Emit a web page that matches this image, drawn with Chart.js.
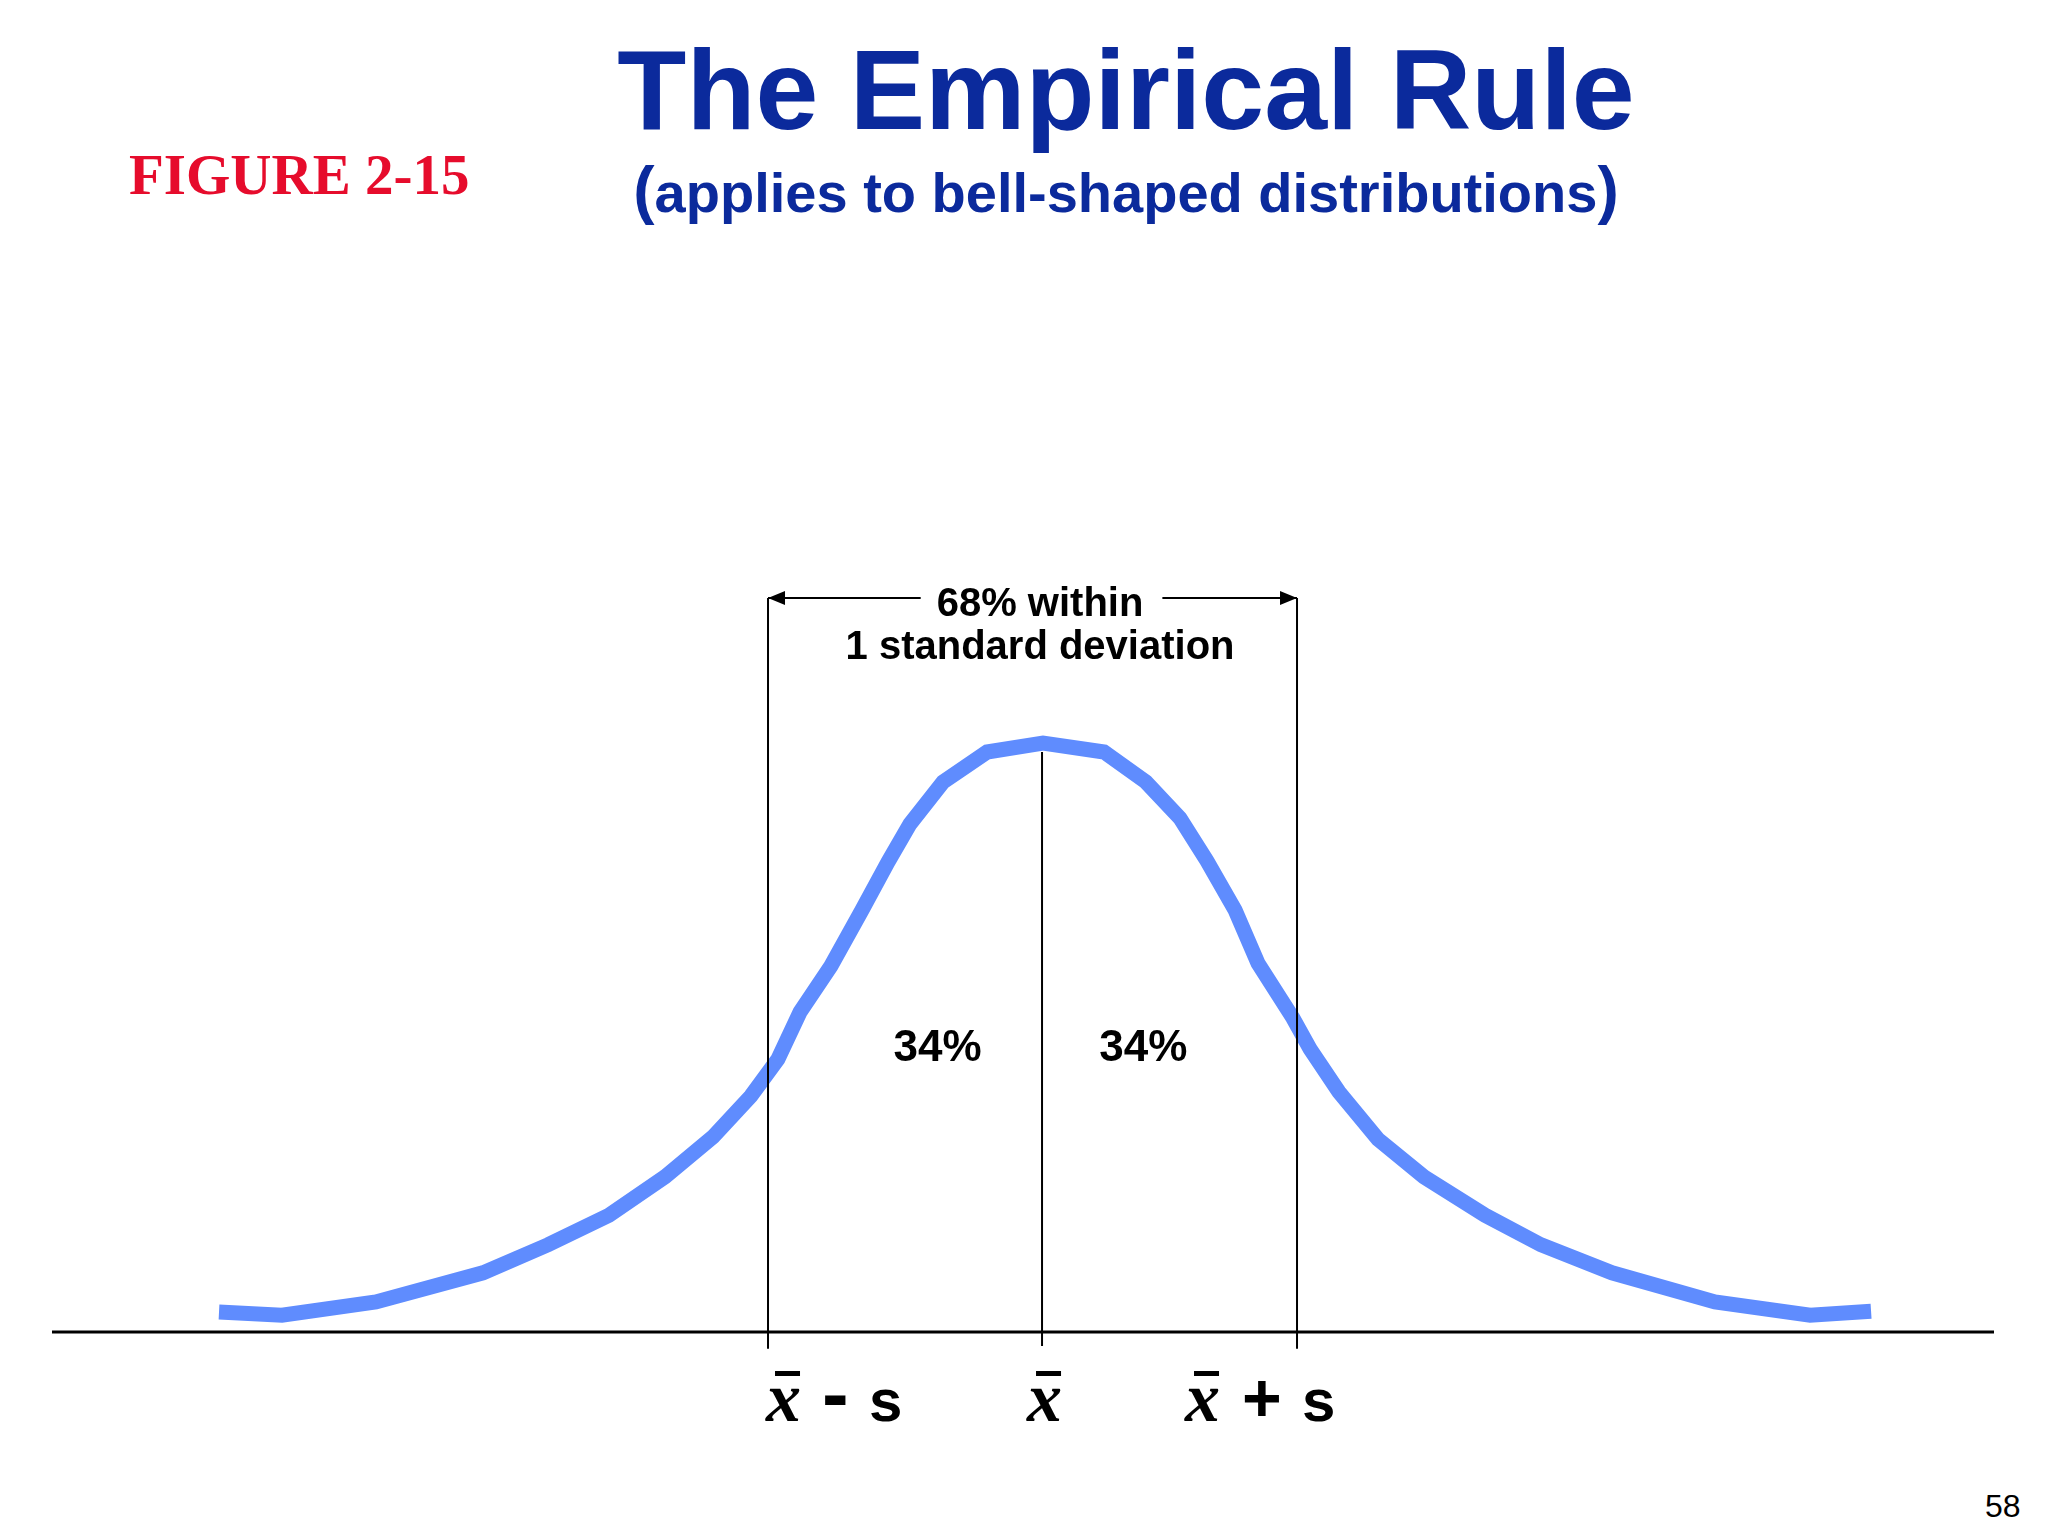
<!DOCTYPE html>
<html>
<head>
<meta charset="utf-8">
<title>The Empirical Rule</title>
<script src="https://cdn.jsdelivr.net/npm/chart.js@4.4.1/dist/chart.umd.min.js"></script>
<style>
  html, body { margin: 0; padding: 0; background: #fff; }
  body { width: 2048px; height: 1536px; position: relative; overflow: hidden; }
  #chart { position: absolute; left: 0; top: 0; }
  .txt { position: absolute; white-space: nowrap; }
  #title { left: 1126px; top: 34px; transform: translateX(-50%); font: bold 113px/1 "Liberation Sans", Arial, sans-serif; color: #0b2a9c; }
  #subtitle { left: 1126px; top: 158px; transform: translateX(-50%); font: bold 56px/1 "Liberation Sans", Arial, sans-serif; color: #0b2a9c; }
  #subtitle .par { font-size: 64px; }
  #figure { left: 129px; top: 146px; font: bold 57px/1 "Liberation Serif", "Times New Roman", serif; color: #e60c2c; }
  #page { left: 1985px; top: 1490px; font: 32px/1 "Liberation Sans", Arial, sans-serif; color: #000; }
</style>
</head>
<body>
<div class="txt" id="title">The Empirical Rule</div>
<div class="txt" id="subtitle"><span class="par">(</span>applies to bell-shaped distributions<span class="par">)</span></div>
<div class="txt" id="figure">FIGURE 2-15</div>
<div class="txt" id="page">58</div>
<canvas id="chart" width="2048" height="1536"></canvas>
<script>
// curve (x across the axis 0-100, y height above the axis)
const curveX = [8.6, 11.84, 16.68, 22.19, 25.54, 28.68, 31.57, 34.04, 35.99, 37.38, 38.52, 40.11,
    41.71, 43.05, 44.18, 45.88, 48.15, 51.03, 54.17, 56.33, 58.08, 59.47, 60.92, 62.10, 63.90,
    64.78, 66.27, 68.28, 70.65, 73.79, 76.67, 80.33, 85.63, 90.53, 93.67];
const curveY = [2.5, 2.1, 3.75, 7.4, 10.9, 14.6, 19.4, 24.4, 29.5, 34.1, 40.0, 45.75,
    52.75, 58.75, 63.5, 68.75, 72.5, 73.6, 72.5, 68.75, 64.25, 58.9, 52.75, 46.1, 39.25,
    35.4, 30.0, 24.1, 19.4, 14.6, 10.9, 7.4, 3.75, 2.1, 2.6];

// mean - s, mean, mean + s
const refValues = [36.87, 50.98, 64.11];
const tickLabels = ["x̄ - s", "x̄", "x̄ + s"];

const shareLabels = ["34%", "34%"];
const shareX = [45.6, 56.2];
const bracketText = ["68% within", "1 standard deviation"];

const bracketLevel = 91.75;
const refTop = [bracketLevel, 72.5, bracketLevel];
const shareLevel = 33.9;
const sans = '"Liberation Sans", Arial, sans-serif';

document.addEventListener("DOMContentLoaded", function () {
    const ctx = document.getElementById("chart").getContext("2d");

    const datasets = [];

    // vertical reference lines
    refValues.forEach(function (v, i) {
        datasets.push({
            data: [{ x: v, y: i === 1 ? -1.75 : -2.1 }, { x: v, y: refTop[i] }],
            borderColor: "#000",
            borderWidth: 2,
            pointRadius: 0,
            order: 1
        });
    });

    // axis
    datasets.push({
        data: [{ x: 0, y: 0 }, { x: 100, y: 0 }],
        borderColor: "#000",
        borderWidth: 3,
        pointRadius: 0,
        order: 1
    });

    // bell curve
    datasets.push({
        data: curveX.map((x, i) => ({ x: x, y: curveY[i] })),
        borderColor: "#5f8cfe",
        borderWidth: 15,
        borderCapStyle: "butt",
        borderJoinStyle: "miter",
        pointRadius: 0,
        tension: 0,
        order: 2
    });

    const annotations = {
        id: "annotations",
        afterDatasetsDraw(chart) {
            const c = chart.ctx;
            const xs = chart.scales.x;
            const ys = chart.scales.y;
            c.save();
            c.fillStyle = "#000";
            c.strokeStyle = "#000";
            c.textBaseline = "alphabetic";

            // 68% bracket
            const mid = xs.getPixelForValue(refValues[1]);
            const by = ys.getPixelForValue(bracketLevel);
            c.font = "bold 40px " + sans;
            c.textAlign = "center";
            c.fillText(bracketText[0], mid - 2, by + 18);
            c.fillText(bracketText[1], mid - 2, by + 61);
            const half = c.measureText(bracketText[0]).width / 2;
            const lx = xs.getPixelForValue(refValues[0]);
            const rx = xs.getPixelForValue(refValues[2]);
            c.lineWidth = 2;
            c.beginPath();
            c.moveTo(lx, by);
            c.lineTo(mid - 2 - half - 16, by);
            c.moveTo(mid - 2 + half + 19, by);
            c.lineTo(rx, by);
            c.stroke();
            c.beginPath();
            c.moveTo(lx, by);
            c.lineTo(lx + 17, by - 7);
            c.lineTo(lx + 17, by + 7);
            c.closePath();
            c.moveTo(rx, by);
            c.lineTo(rx - 17, by - 7);
            c.lineTo(rx - 17, by + 7);
            c.closePath();
            c.fill();

            // 34% labels
            c.font = "bold 44px " + sans;
            shareLabels.forEach(function (t, i) {
                c.fillText(t, xs.getPixelForValue(shareX[i]), ys.getPixelForValue(shareLevel));
            });

            // tick labels under the axis
            c.textAlign = "left";
            const base = ys.getPixelForValue(0) + 89;
            const shift = [-3, -16, -113];
            tickLabels.forEach(function (label, i) {
                let ink = xs.getPixelForValue(refValues[i]) + shift[i];
                label.split(" ").forEach(function (tok) {
                    if (tok === "x̄") {
                        c.font = "bold italic 70px \"Liberation Serif\", \"Times New Roman\", serif";
                        const m = c.measureText("x");
                        c.fillText("x", ink + m.actualBoundingBoxLeft, base);
                        const w = m.actualBoundingBoxLeft + m.actualBoundingBoxRight;
                        c.fillRect(ink + 10, base - 50, w - 10, 5);
                        ink += w + 25;
                    } else {
                        const size = tok === "-" ? 80 : (tok === "+" ? 68 : 60);
                        c.font = "bold " + size + "px " + sans;
                        const m = c.measureText(tok);
                        c.fillText(tok, ink + m.actualBoundingBoxLeft, base);
                        ink += m.actualBoundingBoxLeft + m.actualBoundingBoxRight + 25;
                    }
                });
            });
            c.restore();
        }
    };

    new Chart(ctx, {
        type: "line",
        data: { datasets: datasets },
        options: {
            responsive: false,
            animation: false,
            devicePixelRatio: 1,
            layout: { padding: { left: 52, right: 54, top: 532, bottom: 124 } },
            plugins: { legend: { display: false }, tooltip: { enabled: false } },
            scales: {
                x: { type: "linear", min: 0, max: 100, display: false },
                y: { type: "linear", min: -10, max: 100, display: false }
            }
        },
        plugins: [annotations]
    });
});
</script>
</body>
</html>
